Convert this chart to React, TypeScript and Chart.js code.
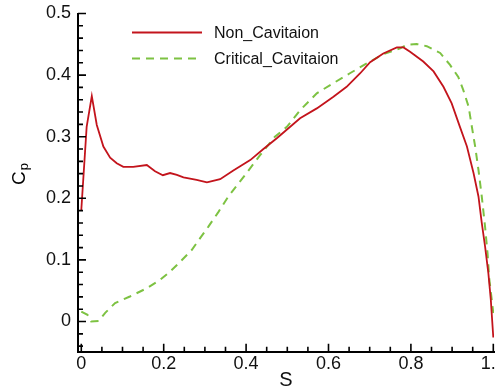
import React, { useEffect, useRef } from 'react';
import { Chart, registerables } from 'chart.js';

Chart.register(...registerables);

// ---- data ----
const SERIES_LABELS = ['Non_Cavitaion', 'Critical_Cavitaion'];

const S_NON = [0, 0.013, 0.0255, 0.0376, 0.0536, 0.07, 0.086, 0.102, 0.126, 0.159, 0.179, 0.198, 0.2155, 0.232, 0.248, 0.28, 0.305, 0.337, 0.369, 0.41, 0.442, 0.4745, 0.531, 0.5716, 0.612, 0.644, 0.677, 0.701, 0.733, 0.766, 0.782, 0.798, 0.83, 0.855, 0.879, 0.899, 0.919, 0.936, 0.952, 0.964, 0.972, 0.98, 0.988, 0.994, 1.0];
const CP_NON = [0.181, 0.316, 0.366, 0.319, 0.284, 0.266, 0.257, 0.251, 0.251, 0.254, 0.244, 0.2375, 0.241, 0.238, 0.234, 0.23, 0.226, 0.231, 0.245, 0.262, 0.28, 0.2975, 0.33, 0.346, 0.365, 0.381, 0.403, 0.421, 0.435, 0.445, 0.445, 0.438, 0.422, 0.406, 0.381, 0.354, 0.316, 0.284, 0.241, 0.203, 0.16, 0.122, 0.0785, 0.035, -0.026];

const S_CRIT = [0, 0.015, 0.024, 0.042, 0.058, 0.082, 0.118, 0.159, 0.191, 0.2155, 0.24, 0.268, 0.288, 0.3085, 0.333, 0.357, 0.3976, 0.434, 0.47, 0.499, 0.531, 0.5716, 0.612, 0.652, 0.693, 0.733, 0.774, 0.79, 0.814, 0.8386, 0.871, 0.895, 0.915, 0.927, 0.94, 0.948, 0.956, 0.964, 0.972, 0.98, 0.986, 0.9905, 0.9963, 1.0];
const CP_CRIT = [0.016, 0.011, 0.0, 0.001, 0.014, 0.03, 0.0406, 0.054, 0.0677, 0.081, 0.097, 0.116, 0.135, 0.154, 0.178, 0.203, 0.238, 0.27, 0.3, 0.316, 0.343, 0.3705, 0.387, 0.403, 0.419, 0.434, 0.4435, 0.449, 0.4505, 0.447, 0.436, 0.4165, 0.397, 0.376, 0.349, 0.316, 0.284, 0.246, 0.203, 0.154, 0.111, 0.0677, 0.035, 0.0136];

const X_TICKS = [0, 0.2, 0.4, 0.6, 0.8, 1];
const Y_TICKS = [0, 0.1, 0.2, 0.3, 0.4, 0.5];
const X_MINOR = [0.05, 0.1, 0.15, 0.25, 0.3, 0.35, 0.45, 0.5, 0.55, 0.65, 0.7, 0.75, 0.85, 0.9, 0.95];
const Y_MINOR = [-0.04, -0.02, 0.02, 0.04, 0.06, 0.08, 0.12, 0.14, 0.16, 0.18, 0.22, 0.24, 0.26, 0.28, 0.32, 0.34, 0.36, 0.38, 0.42, 0.44, 0.46, 0.48];

const X_TITLE = 'S';
const Y_TITLE = 'C';
const Y_TITLE_SUB = 'p';

const X_MIN = -0.008;
const X_MAX = 1.0017;
const Y_MIN = -0.049;
const Y_MAX = 0.5;

const FONT = "'Liberation Sans', Arial, Helvetica, sans-serif";
const RED = '#c3141c';
const GREEN = '#7dc242';

const decorPlugin = {
  id: 'decor',
  afterDraw(chart: any) {
    const ctx = chart.ctx as CanvasRenderingContext2D;
    const xs = chart.scales.x;
    const ys = chart.scales.y;
    const { left, bottom } = chart.chartArea;
    ctx.save();
    // inward tick marks
    ctx.strokeStyle = '#000';
    ctx.lineWidth = 1.6;
    ctx.beginPath();
    X_TICKS.forEach((v) => {
      const p = xs.getPixelForValue(v);
      ctx.moveTo(p, bottom);
      ctx.lineTo(p, bottom - 8);
    });
    X_MINOR.forEach((v) => {
      const p = xs.getPixelForValue(v);
      ctx.moveTo(p, bottom);
      ctx.lineTo(p, bottom - 5);
    });
    Y_TICKS.forEach((v) => {
      const p = ys.getPixelForValue(v);
      ctx.moveTo(left, p);
      ctx.lineTo(left + 8, p);
    });
    Y_MINOR.forEach((v) => {
      const p = ys.getPixelForValue(v);
      ctx.moveTo(left, p);
      ctx.lineTo(left + 5, p);
    });
    ctx.stroke();

    // y axis title with subscript
    ctx.save();
    ctx.translate(25, 185);
    ctx.rotate(-Math.PI / 2);
    ctx.fillStyle = '#000';
    ctx.textBaseline = 'alphabetic';
    ctx.textAlign = 'left';
    ctx.font = `19px ${FONT}`;
    ctx.fillText(Y_TITLE, 0, 0);
    const w = ctx.measureText(Y_TITLE).width;
    ctx.font = `13px ${FONT}`;
    ctx.fillText(Y_TITLE_SUB, w + 1, 3);
    ctx.restore();

    // legend
    const legY = [32.5, 58.5];
    const baseY = [38, 64];
    chart.data.datasets.forEach((ds: any, i: number) => {
      ctx.save();
      ctx.strokeStyle = ds.borderColor;
      ctx.lineWidth = ds.borderWidth;
      ctx.setLineDash(ds.borderDash || []);
      ctx.beginPath();
      ctx.moveTo(132, legY[i]);
      ctx.lineTo(202, legY[i]);
      ctx.stroke();
      ctx.restore();
      ctx.fillStyle = '#111';
      ctx.font = `16px ${FONT}`;
      ctx.textAlign = 'left';
      ctx.textBaseline = 'alphabetic';
      ctx.fillText(ds.label, 214, baseY[i]);
    });
    ctx.restore();
  },
};

export default function App() {
  const ref = useRef<HTMLCanvasElement | null>(null);
  useEffect(() => {
    if (!ref.current) return;
    const chart = new Chart(ref.current, {
      type: 'line',
      data: {
        datasets: [
          {
            label: SERIES_LABELS[0],
            data: S_NON.map((s, i) => ({ x: s, y: CP_NON[i] })),
            borderColor: RED,
            borderWidth: 1.8,
            pointRadius: 0,
            tension: 0,
            fill: false,
          },
          {
            label: SERIES_LABELS[1],
            data: S_CRIT.map((s, i) => ({ x: s, y: CP_CRIT[i] })),
            borderColor: GREEN,
            borderWidth: 2,
            borderDash: [8, 6],
            pointRadius: 0,
            tension: 0,
            fill: false,
          },
        ],
      },
      options: {
        responsive: false,
        animation: false,
        events: [],
        layout: { padding: { top: 13.5, right: 1, left: 0, bottom: 0 } },
        plugins: { legend: { display: false }, tooltip: { enabled: false }, title: { display: false } },
        scales: {
          x: {
            type: 'linear',
            min: X_MIN,
            max: X_MAX,
            afterBuildTicks: (scale: any) => {
              scale.ticks = X_TICKS.map((v) => ({ value: v }));
            },
            afterFit: (scale: any) => {
              scale.height = 40.3;
              scale.paddingLeft = 0;
              scale.paddingRight = 0;
            },
            grid: { display: false, drawTicks: false },
            border: { display: true, color: '#000', width: 2 },
            ticks: {
              color: '#111',
              padding: 2,
              maxRotation: 0,
              autoSkip: false,
              font: { family: FONT, size: 18 },
            },
            title: {
              display: true,
              text: X_TITLE,
              color: '#111',
              padding: { top: 0, bottom: 0 },
              font: { family: FONT, size: 20 },
            },
          },
          y: {
            type: 'linear',
            min: Y_MIN,
            max: Y_MAX,
            afterBuildTicks: (scale: any) => {
              scale.ticks = Y_TICKS.map((v) => ({ value: v }));
            },
            afterFit: (scale: any) => {
              scale.width = 78;
              scale.paddingTop = 0;
              scale.paddingBottom = 0;
            },
            grid: { display: false, drawTicks: false },
            border: { display: true, color: '#000', width: 2 },
            ticks: {
              color: '#111',
              padding: 7,
              autoSkip: false,
              font: { family: FONT, size: 18 },
            },
          },
        },
      },
      plugins: [decorPlugin],
    } as any);
    return () => chart.destroy();
  }, []);
  return (
    <div style={{ position: 'fixed', left: 0, top: 0, width: 495, height: 392, background: '#fff' }}>
      <canvas ref={ref} width={495} height={392} style={{ display: 'block' }} />
    </div>
  );
}
